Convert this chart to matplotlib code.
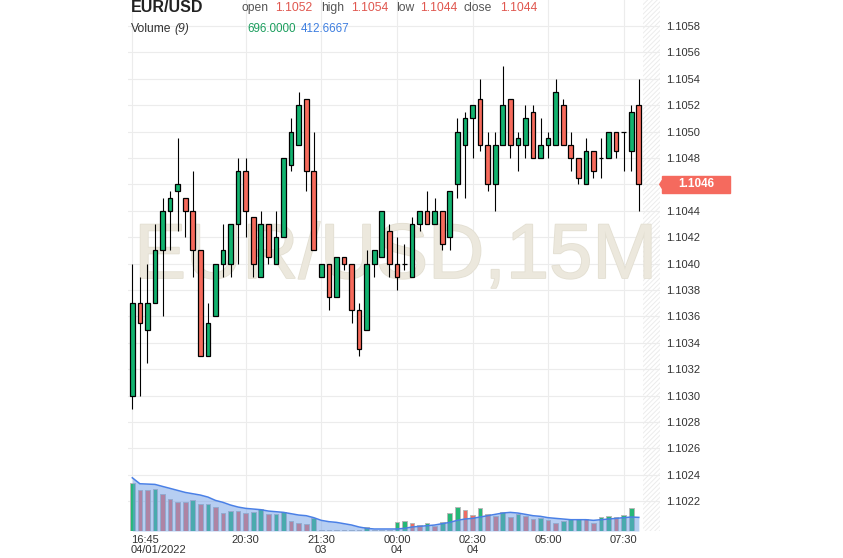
import numpy as np
from matplotlib.pyplot import *
from matplotlib.patches import Rectangle, Polygon
from matplotlib.transforms import blended_transform_factory
import matplotlib.patheffects as pe

rcParams['font.family']=['Liberation Sans','DejaVu Sans']

#########################################
#DATA (EUR/USD 15M)
#########################################
opens=[1.1030,1.1037,1.1035,1.1037,1.1041,1.1044,1.10455,1.1045,1.1044,1.1041,
       1.1033,1.1036,1.1040,1.1040,1.1043,1.1047,1.10435,1.1039,1.1043,1.1040,
       1.1042,1.10475,1.1049,1.10525,1.1047,1.1039,1.1040,1.10375,1.10405,1.1040,
       1.10365,1.1035,1.1040,1.10405,1.10425,1.1040,1.1040,1.1039,1.1043,1.1044,
       1.1043,1.1044,1.1042,1.1046,1.1049,1.1051,1.10525,1.1049,1.1046,1.1049,
       1.10525,1.1049,1.1049,1.10515,1.1048,1.1049,1.1049,1.1052,1.1049,1.1048,
       1.1046,1.10485,1.1048,1.1048,1.1050,1.1050,1.10485,1.1052]
highs=[1.1040,1.1039,1.1040,1.1043,1.1045,1.10455,1.10495,1.1045,1.1047,1.1041,
       1.1037,1.1040,1.1043,1.1043,1.1048,1.1048,1.10435,1.1044,1.1043,1.1044,
       1.1048,1.1051,1.1053,1.10525,1.1050,1.1040,1.1040,1.10405,1.10405,1.1040,
       1.1037,1.1041,1.1041,1.1044,1.1043,1.1042,1.10415,1.10435,1.1044,1.10455,
       1.1045,1.1044,1.10455,1.1051,1.10515,1.1052,1.1054,1.1050,1.1050,1.1055,
       1.10525,1.1050,1.1052,1.1052,1.1051,1.1050,1.1054,1.10525,1.1050,1.1048,
       1.10495,1.10485,1.10495,1.1050,1.1050,1.1050,1.1052,1.1054]
lows=[1.1029,1.1030,1.10325,1.1037,1.1036,1.1041,1.10425,1.1042,1.1039,1.1033,
      1.1033,1.1036,1.1039,1.1039,1.1040,1.1042,1.1039,1.1039,1.1040,1.1040,
      1.1042,1.1047,1.1049,1.10455,1.1041,1.1039,1.10365,1.10375,1.10395,1.10355,
      1.1033,1.1035,1.1039,1.10405,1.1039,1.1038,1.10395,1.1039,1.10425,1.1043,
      1.1043,1.1041,1.1041,1.1045,1.1045,1.1048,1.10485,1.10455,1.1044,1.1049,
      1.1048,1.1047,1.1048,1.1048,1.1048,1.1048,1.1049,1.1049,1.1047,1.1046,
      1.1046,1.10465,1.10465,1.1048,1.1048,1.1047,1.1047,1.1044]
closes=[1.1037,1.10355,1.1037,1.1041,1.1044,1.1045,1.1046,1.1044,1.1041,1.1033,
        1.10355,1.1040,1.1041,1.1043,1.1047,1.1044,1.1040,1.1043,1.10405,1.1042,
        1.1048,1.1050,1.1052,1.1047,1.1041,1.1040,1.10375,1.10405,1.1040,1.10365,
        1.10335,1.1040,1.1041,1.1044,1.1040,1.1039,1.1040,1.1043,1.1044,1.1043,
        1.1044,1.10415,1.10455,1.1050,1.1051,1.1052,1.1049,1.1046,1.1049,1.1052,
        1.1049,1.10495,1.1051,1.1048,1.1049,1.10495,1.1053,1.1049,1.1048,1.10465,
        1.10485,1.1047,1.1048,1.1050,1.10485,1.1050,1.10515,1.1046]

volumes=[1453,1251,1251,1271,1110,969,888,888,928,827,
         827,726,545,605,605,545,585,666,525,525,
         565,303,242,222,383,40,30,30,30,30,
         30,121,30,30,40,272,303,252,192,242,
         161,272,545,726,646,494,696,525,464,575,
         424,525,454,363,394,323,252,303,353,353,
         353,252,424,454,424,494,696,0]
volume_up=[1,0,0,1,0,0,0,0,1,0,
           1,0,0,1,0,0,1,1,0,1,
           1,0,0,0,1,0,1,0,0,1,
           0,1,0,1,0,1,1,0,0,1,
           0,1,1,1,0,0,1,0,0,1,
           0,1,0,0,1,0,0,1,1,1,
           0,0,1,1,0,1,1,0]
volume_ma=[1614,1433,1423,1413,1352,1292,1231,1170,1130,1090,
           1029,928,868,787,726,686,666,646,605,585,
           565,525,484,464,404,323,283,262,222,182,
           121,81,61,61,61,61,81,121,141,161,
           182,222,262,323,363,383,424,464,505,545,
           565,545,505,464,444,404,383,363,343,343,
           343,323,343,363,383,404,424,413]

tick_index=[0,15,25,35,45,55,65]
tick_time=['16:45','20:30','21:30','00:00','02:30','05:00','07:30']
tick_date=['04/01/2022','','03','04','04','','']

header_names=['open','high','low','close']
header_values=['1.1052','1.1054','1.1044','1.1044']
volume_values=['696.0000','412.6667']

#########################################
#STYLE
#########################################
UP='#12b36f'
DOWN='#f76b5c'
VUP='#26b877'
VDOWN='#ef6b62'
GRID='#ececec'
W,H=843,558

#########################################
#FIGURE
#########################################
fig=figure(figsize=(W/100,H/100),dpi=100)
ax=fig.add_axes([128/W,27/H,532/W,531/H])
n=len(opens)
x=np.arange(n)
ax.set_xlim(-0.57,69.8)
ax.set_ylim(1.101974,1.105997)
for s in ax.spines.values():
    s.set_visible(False)

last=closes[-1]

#GRID
yt=np.round(np.arange(1.1022,1.10581,0.0002),4)
ax.set_yticks(yt)
#the last price tag hides the label under it
ax.set_yticklabels(['' if abs(v-last)<1e-6 else '%.4f'%v for v in yt])
ax.yaxis.tick_right()
ax.tick_params(axis='y',length=0,pad=4.5,labelsize=8,labelcolor='#333333')
ax.set_xticks([])
for v in yt:
    ax.axhline(v,color=GRID,lw=0.8,zorder=0)
for i in tick_index:
    ax.axvline(i,color=GRID,lw=0.8,zorder=0)

#HATCHED FUTURE AREA
rcParams['hatch.linewidth']=0.7
ax.add_patch(Rectangle((67.5,1.101974),69.8-67.5,1.105997-1.101974,
                       fill=False,hatch='///////',edgecolor='#ececec',lw=0,zorder=0))

#WATERMARK
ax.text(0.503,0.515,'EUR/USD,15M',transform=ax.transAxes,ha='center',va='center',
        fontsize=56,color='#ece8dd',zorder=1,
        path_effects=[pe.withStroke(linewidth=1.2,foreground='#e3dfd2')])

#########################################
#CANDLES
#########################################
o=np.array(opens); c=np.array(closes)
cols=[UP if cc>=oo else DOWN for oo,cc in zip(o,c)]
ax.vlines(x,lows,highs,color='black',lw=0.8,zorder=2)
ax.bar(x,np.abs(c-o),bottom=np.minimum(o,c),width=0.62,color=cols,
       edgecolor='black',lw=0.9,zorder=3)

#LAST PRICE TAG
tr=blended_transform_factory(ax.transAxes,ax.transData)
hh=0.0000645
ax.add_patch(Rectangle((1.0038,last-hh),0.1278,2*hh,transform=tr,color='#f56a5e',
                       clip_on=False,zorder=5))
ax.add_patch(Polygon([[1.0040,last+0.00003],[1.0040,last-0.00003],[0.9995,last]],
                     closed=True,transform=tr,color='#f56a5e',clip_on=False,zorder=5))
ax.text(1.0038+0.0639,last,'%.4f'%last,transform=tr,ha='center',va='center',
        color='white',fontsize=8.5,fontweight='bold',zorder=6)

#X LABELS
xtr=ax.get_xaxis_transform()
for k,(i,t,d) in enumerate(zip(tick_index,tick_time,tick_date)):
    ha='left' if k==0 else 'center'
    xi=i-0.18 if k==0 else i
    ax.text(xi,-0.0170,t,transform=xtr,ha=ha,va='center',fontsize=8,color='#333333')
    ax.text(xi,-0.0365,d,transform=xtr,ha=ha,va='center',fontsize=8,color='#333333')

#########################################
#VOLUME
#########################################
vax=fig.add_axes([128/W,27/H,532/W,61/H])
vax.set_xlim(-0.57,69.8)
vax.set_ylim(0,1850)
vax.axis('off')
vax.patch.set_alpha(0)
vcols=[VUP if u else VDOWN for u in volume_up]
vax.bar(x,volumes,width=0.62,color=vcols,edgecolor='#b8b8b8',lw=0.7,zorder=1)
vax.fill_between(x,volume_ma,0,color='#6f9ee6',alpha=0.5,lw=0,zorder=2)
vax.plot(x,volume_ma,color='#4a80e6',lw=1.1,zorder=3)

#########################################
#HEADER
#########################################
def ftext(px,py,s,**kw):
    fig.text(px/W,1-py/H,s,va='center',**kw)

ftext(131,8,'EUR/USD',fontsize=11.5,fontweight='bold',color='#222222')
hx=[(241,275),(321,351),(396,420),(464,500)]
for (nx,vx),nm,vl in zip(hx,header_names,header_values):
    ftext(nx,8,nm,fontsize=8.7,color='#555555')
    ftext(vx,8,vl,fontsize=8.7,color='#e0574f')
ftext(131,29,'Volume',fontsize=8.7,color='#333333')
ftext(174,29,'(9)',fontsize=8.7,color='#333333',style='italic')
ftext(247,29,volume_values[0],fontsize=8.4,color='#1c9e5e')
ftext(301,29,volume_values[1],fontsize=8.4,color='#3f7fe0')

#########################################
#SAVE FIGURE
#########################################
savefig('out.png',dpi=100)
